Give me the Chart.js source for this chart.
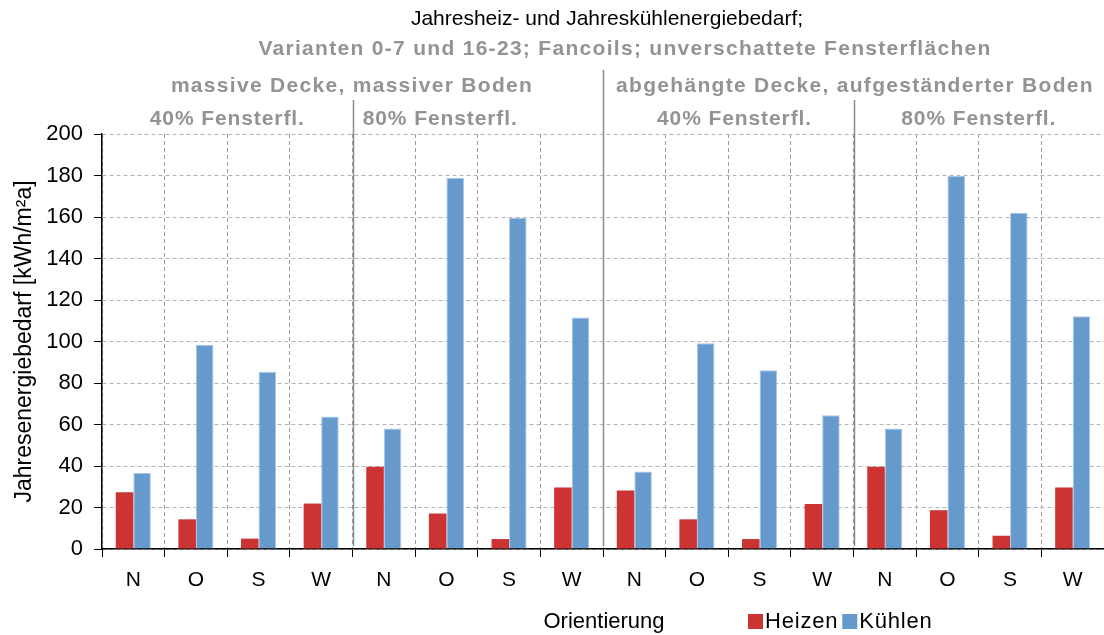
<!DOCTYPE html>
<html>
<head>
<meta charset="utf-8">
<script src="https://cdn.jsdelivr.net/npm/chart.js@4.4.1/dist/chart.umd.min.js"></script>
<style>
  body { margin: 0; background: #fff; }
</style>
</head>
<body>
<canvas id="myChart" width="1104" height="635"></canvas>
<script>
// data
const orientierung = ["N", "O", "S", "W", "N", "O", "S", "W", "N", "O", "S", "W", "N", "O", "S", "W"];
const heizen = [27.4, 14.3, 5, 21.9, 39.6, 17.1, 4.8, 29.6, 28.2, 14.3, 4.8, 21.7, 39.6, 18.7, 6.4, 29.6];
const kuehlen = [36.6, 98.4, 85.4, 63.8, 58.1, 178.9, 159.6, 111.6, 37.3, 99.2, 86.1, 64.4, 58.1, 179.7, 162, 112.2];
const yTicks = [0, 20, 40, 60, 80, 100, 120, 140, 160, 180, 200];
const seriesNames = ["Heizen", "Kühlen"];
const titel = "Jahresheiz- und Jahreskühlenergiebedarf;";
const untertitel = "Varianten 0-7 und 16-23; Fancoils; unverschattete Fensterflächen";
const bauweisen = ["massive Decke, massiver Boden", "abgehängte Decke, aufgeständerter Boden"];
const fensteranteile = ["40% Fensterfl.", "80% Fensterfl.", "40% Fensterfl.", "80% Fensterfl."];

const FONT = "'Liberation Sans', Arial, sans-serif";
const GRAY = "#939393";

const labelsPlugin = {
  id: "labelsPlugin",
  afterDraw(chart) {
    const ctx = chart.ctx;
    const x = chart.scales.x;
    const area = chart.chartArea;
    const bound = i => (x.getPixelForValue(i) + x.getPixelForValue(i + 1)) / 2;

    ctx.save();
    ctx.textAlign = "center";
    ctx.textBaseline = "middle";

    ctx.fillStyle = "#000";
    ctx.font = "21px " + FONT;
    ctx.fillText(titel, 607, 19);

    ctx.fillStyle = GRAY;
    ctx.font = "bold 21px " + FONT;
    ctx.letterSpacing = "1.3px";
    ctx.fillText(untertitel, 625, 49);
    ctx.fillText(bauweisen[0], 352, 86);
    ctx.fillText(bauweisen[1], 855, 86);

    ctx.letterSpacing = "0.9px";
    const winPos = [1.5, 4.9, 9.6, 13.5];
    fensteranteile.forEach((t, i) => {
      ctx.fillText(t, x.getPixelForValue(winPos[i]), 119);
    });
    ctx.letterSpacing = "0px";

    // separators between the variants
    ctx.strokeStyle = "#8c8c8c";
    ctx.lineWidth = 1.5;
    [[3, 100], [7, 70], [11, 100]].forEach(([i, top]) => {
      const px = Math.round(bound(i)) + 0.5;
      ctx.beginPath();
      ctx.moveTo(px, top);
      ctx.lineTo(px, area.bottom - 3);
      ctx.stroke();
    });

    // axis title and legend
    ctx.fillStyle = "#000";
    ctx.font = "22px " + FONT;
    ctx.fillText("Orientierung", 604, 622);

    ctx.textAlign = "left";
    ctx.letterSpacing = "0.8px";
    let lx = 748;
    chart.data.datasets.forEach(ds => {
      ctx.fillStyle = ds.backgroundColor;
      ctx.fillRect(lx, 614, 15, 15);
      ctx.fillStyle = "#000";
      ctx.fillText(ds.label, lx + 17, 622);
      lx += 17 + ctx.measureText(ds.label).width + 4;
    });
    ctx.restore();
  }
};

const ctx = document.getElementById("myChart").getContext("2d");
const myChart = new Chart(ctx, {
  type: "bar",
  data: {
    labels: orientierung,
    datasets: [{
      label: seriesNames[0],
      data: heizen,
      backgroundColor: "#cc3333",
      borderWidth: 0
    }, {
      label: seriesNames[1],
      data: kuehlen,
      backgroundColor: "#6699cc",
      borderColor: "#a9c5e4",
      borderWidth: 1,
      borderSkipped: "bottom"
    }]
  },
  options: {
    responsive: false,
    animation: false,
    events: [],
    categoryPercentage: 0.56,
    barPercentage: 1,
    layout: { padding: { top: 134, right: 0, left: 0, bottom: 0 } },
    plugins: { legend: { display: false }, tooltip: { enabled: false } },
    scales: {
      x: {
        grid: { offset: true, color: "#9a9a9a", tickColor: "#000", tickLength: 8, tickBorderDash: [] },
        border: { color: "#000", width: 1.5, dash: [4, 3] },
        ticks: { color: "#000", font: { family: FONT, size: 21 }, padding: 11, maxRotation: 0 },
        afterFit(s) { s.height = 86; }
      },
      y: {
        min: 0,
        max: 200,
        afterBuildTicks(s) { s.ticks = yTicks.map(v => ({ value: v })); },
        grid: { color: "#b4b4b4", tickColor: "#000", tickLength: 8, tickBorderDash: [] },
        border: { color: "#000", width: 1.5, dash: [4, 3] },
        ticks: { color: "#000", font: { family: FONT, size: 22 }, padding: 11 },
        title: { display: true, text: "Jahresenergiebedarf [kWh/m²a]", color: "#000", font: { family: FONT, size: 23 }, padding: { top: 11, bottom: 0 } },
        afterFit(s) { s.width = 102; }
      }
    }
  },
  plugins: [labelsPlugin]
});
</script>
</body>
</html>
